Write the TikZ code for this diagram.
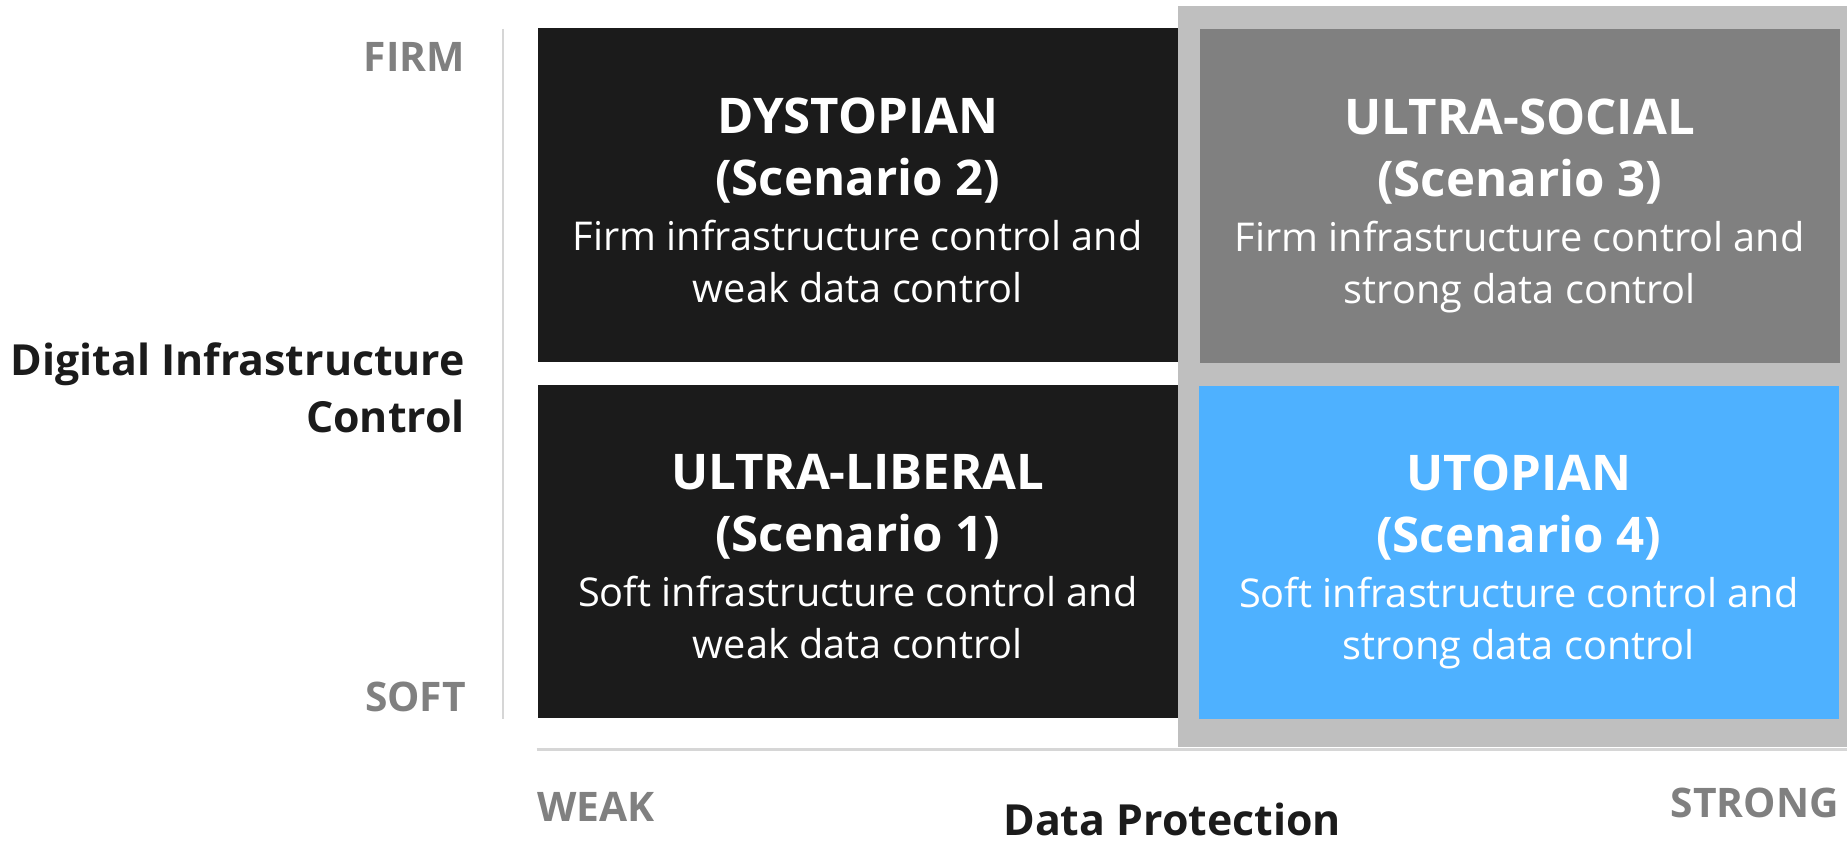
\documentclass[tikz,border=0pt]{standalone}
\usepackage{fontspec}
\setmainfont{Open Sans}
\usetikzlibrary{positioning}
\definecolor{quaddark}{HTML}{1B1B1B}
\definecolor{quadgray}{HTML}{808080}
\definecolor{quadblue}{HTML}{4EB1FF}
\definecolor{framegray}{HTML}{BFBFBF}
\definecolor{axisline}{HTML}{D6D6D6}
\definecolor{ticktext}{HTML}{808080}
\definecolor{inktext}{HTML}{1B1B1B}
\tikzset{
    quad/.style={rectangle, inner sep=0pt, minimum width=64.1mm, minimum height=33.4mm},
    quadtitle/.style={anchor=base, inner sep=0pt, text=white, font=\fontsize{14}{16}\selectfont\bfseries},
    quadbody/.style={anchor=base, inner sep=0pt, text=white, font=\fontsize{11.3}{13}\selectfont},
    tick/.style={inner sep=0pt, text=ticktext, font=\fontsize{11.6}{13}\selectfont\bfseries},
    axislabel/.style={inner sep=0pt, text=inktext, font=\fontsize{12.2}{14}\selectfont\bfseries},
}
\begin{document}
\begin{tikzpicture}[x=0.1mm, y=-0.1mm]
        \fill[white] (0,0) rectangle (1848,844);
        % frame round the strong side
        \fill[framegray] (1179,6) rectangle (1848,748);
        % axes
        \coordinate (ytop) at (503,29);
        \coordinate (ybot) at (503,720);
        \coordinate (xleft) at (537,750);
        \coordinate (xright) at (1848,750);
        \draw[axisline, line width=0.2mm] (ytop) -- (ybot);
        \draw[axisline, line width=0.3mm] (xleft) -- (xright);
        % quadrants
        \foreach \nm/\cx/\cy/\col/\ttl/\num/\la/\lb in {
            dys/858.5/195.5/quaddark/DYSTOPIAN/2/Firm/weak,
            lib/858.5/552/quaddark/ULTRA-LIBERAL/1/Soft/weak,
            soc/1521/196.5/quadgray/ULTRA-SOCIAL/3/Firm/strong,
            uto/1520/553/quadblue/UTOPIAN/4/Soft/strong} {
            \node[quad, fill=\col] (\nm) at (\cx,\cy) {};
            \node[quadtitle] (\nm-t) at ([yshift=6.2mm]\nm.center) {\ttl};
            \node[quadtitle] (\nm-s) at (\nm.center) {(Scenario \num)};
            \node[quadbody] (\nm-a) at ([yshift=-5.5mm]\nm.center) {\la{} infrastructure control and};
            \node[quadbody] (\nm-b) at ([yshift=-10.7mm]\nm.center) {\lb{} data control};
        }
        % axis labels
        \node[tick, anchor=base east] (firm) at (466,72) {FIRM};
        \node[tick, anchor=base east] (soft) at (467,712) {SOFT};
        \node[axislabel, anchor=base east] (infra) at (466,376) {Digital Infrastructure};
        \node[axislabel, anchor=base east] (infractl) at (466,433) {Control};
        \node[tick, anchor=base west] (weak) at (537,822) {WEAK};
        \node[tick, anchor=base east] (strong) at (1841,818) {STRONG};
        \node[axislabel, anchor=base] (dataprot) at (1173,836) {Data Protection};
    \end{tikzpicture}
\end{document}
